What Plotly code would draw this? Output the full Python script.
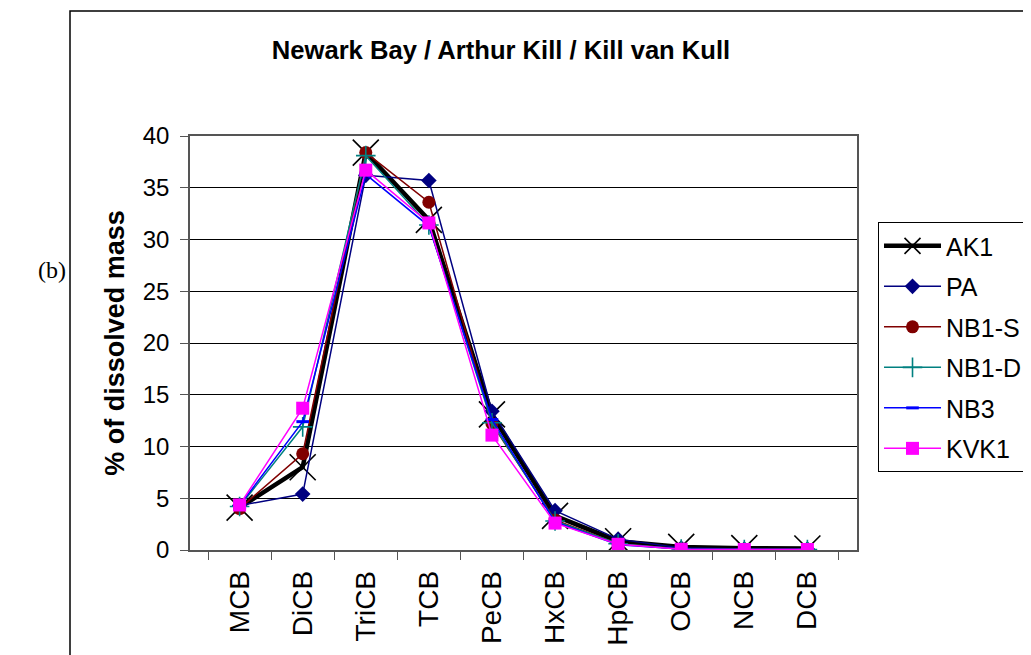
import plotly.graph_objects as go

categories = ["MCB", "DiCB", "TriCB", "TCB", "PeCB", "HxCB", "HpCB", "OCB", "NCB", "DCB"]
ak1 = [4.1, 8.0, 38.4, 31.9, 13.1, 3.3, 0.85, 0.3, 0.18, 0.15]
pa = [4.3, 5.4, 36.2, 35.7, 13.4, 3.8, 1.05, 0.2, 0.1, 0.1]
nb1_s = [4.0, 9.3, 38.4, 33.6, 12.2, 2.9, 0.6, 0.1, 0.05, 0.05]
nb1_d = [4.2, 11.9, 38.1, 31.4, 12.3, 2.8, 0.6, 0.1, 0.05, 0.05]
nb3 = [4.3, 12.4, 36.3, 31.3, 12.6, 2.7, 0.5, 0.1, 0.05, 0.05]
kvk1 = [4.35, 13.7, 36.7, 31.6, 11.1, 2.6, 0.55, 0.07, 0.05, 0.05]

series = [
    ("AK1", ak1, "#000000", 4.5, dict(symbol="x-thin", size=26, line=dict(width=1.6, color="#000000"))),
    ("PA", pa, "#000080", 1.5, dict(symbol="diamond", size=12, color="#000080")),
    ("NB1-S", nb1_s, "#800000", 1.5, dict(symbol="circle", size=13, color="#800000")),
    ("NB1-D", nb1_d, "#008080", 1.5, dict(symbol="cross-thin", size=14, line=dict(width=1.6, color="#008080"))),
    ("NB3", nb3, "#0000FF", 1.5, dict(symbol="line-ew", size=9, line=dict(width=3, color="#0000FF"))),
    ("KVK1", kvk1, "#FF00FF", 1.5, dict(symbol="square", size=13, color="#FF00FF")),
]

fig = go.Figure()
for name, vals, color, lw, marker in series:
    fig.add_trace(go.Scatter(
        x=categories, y=vals, name=name, mode="lines+markers",
        line=dict(color=color, width=lw), marker=marker,
        legendgroup=name,
    ))

W, H = 1023, 647  # page has an 8px body margin
fig.update_layout(
    width=W, height=H,
    margin=dict(l=182, r=174, t=128, b=105, autoexpand=False),
    paper_bgcolor="white", plot_bgcolor="white",
    font=dict(family="Liberation Sans, Arial, sans-serif", color="#000000"),
    title=dict(text="<b>Newark Bay / Arthur Kill / Kill van Kull</b>",
               font=dict(size=25.6, color="#000000"),
               x=493 / W, xanchor="center", y=1 - 42 / H, yanchor="middle"),
    showlegend=True,
    legend=dict(x=1.0315, y=0.792, xanchor="left", yanchor="top",
                bordercolor="#000000", borderwidth=1, bgcolor="white",
                font=dict(size=25), tracegroupgap=5, traceorder="grouped",
                itemwidth=57),
    xaxis=dict(type="category", showgrid=False, ticks="outside", tickson="boundaries",
               ticklen=8, tickcolor="#555555", tickangle=-90,
               showline=True, linecolor="#555555", linewidth=1.5, mirror=True,
               tickfont=dict(size=28), ticklabelstandoff=8),
    yaxis=dict(range=[0, 40], dtick=5, showgrid=True, gridcolor="#000000", gridwidth=1,
               ticks="outside", ticklen=8, tickcolor="#555555",
               showline=True, linecolor="#555555", linewidth=1.5, mirror=True,
               tickfont=dict(size=24), zeroline=False, ticklabelstandoff=6,
               title=dict(text="<b>% of dissolved mass</b>", font=dict(size=27), standoff=10)),
)

# outer chart border (extends beyond visible window like the reference)
fig.add_shape(type="rect", xref="paper", yref="paper",
              x0=(70 - 190) / 667, x1=2.0, y0=-1.0, y1=(550 - 11) / 414,
              line=dict(color="#000000", width=1.5), fillcolor="rgba(0,0,0,0)", layer="below")

fig.add_annotation(text="(b)", xref="paper", yref="paper",
                   x=(52 - 190) / 667, y=(550 - 270) / 414, xanchor="center", yanchor="middle",
                   showarrow=False, font=dict(family="Liberation Serif, Times New Roman, serif", size=24))

fig.write_html("out.html")
